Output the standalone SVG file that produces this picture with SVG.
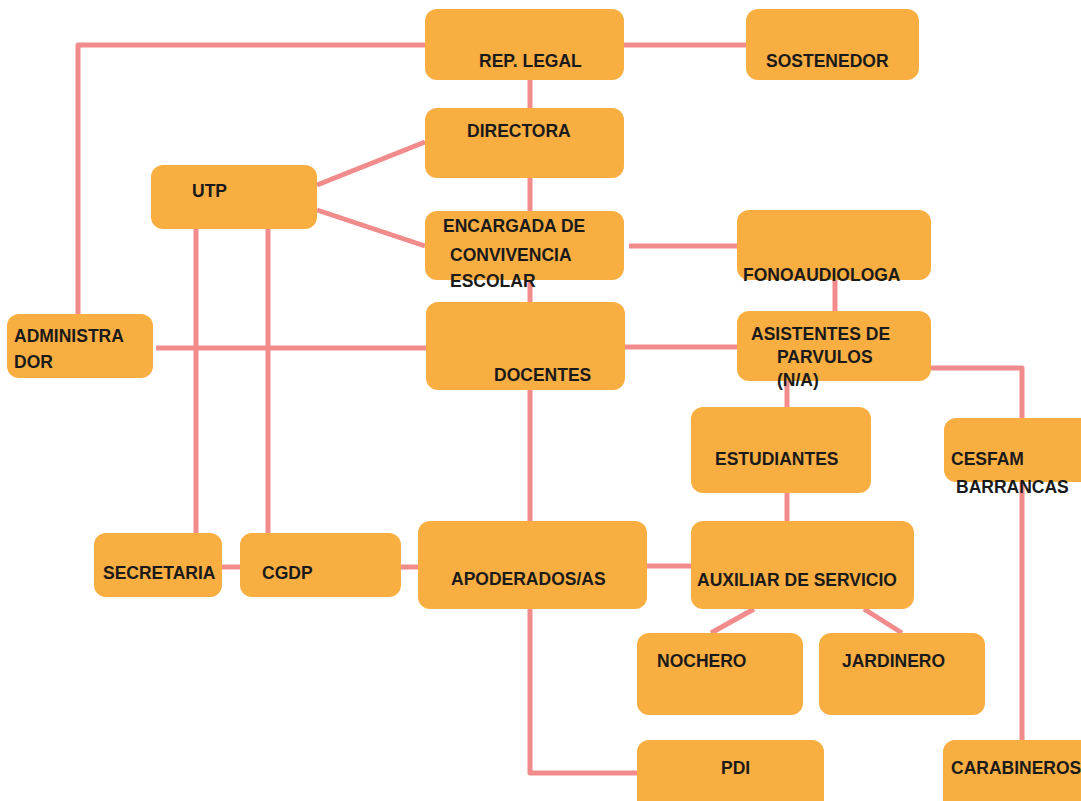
<svg xmlns="http://www.w3.org/2000/svg" width="1081" height="801" viewBox="0 0 1081 801">
<style>
.n{fill:#F9AE42}
.t{font-family:"Liberation Sans",Arial,sans-serif;font-weight:bold;font-size:17.5px;fill:#1a1a1a}
.c{stroke:#F28B8B;stroke-width:5;fill:none;stroke-linejoin:round}
</style>
<rect width="1081" height="801" fill="#ffffff"/>
<g id="connectors" class="c">
<polyline points="425,45 78,45 78,314"/>
<line x1="624" y1="45" x2="746" y2="45"/>
<line x1="530" y1="80" x2="530" y2="108"/>
<line x1="530" y1="178" x2="530" y2="211"/>
<line x1="530" y1="280" x2="530" y2="302"/>
<line x1="530" y1="390" x2="530" y2="521"/>
<line x1="317" y1="185" x2="425" y2="142"/>
<line x1="317" y1="210" x2="425" y2="246"/>
<line x1="196" y1="229" x2="196" y2="533"/>
<line x1="268" y1="229" x2="268" y2="533"/>
<line x1="156" y1="348" x2="426" y2="348"/>
<line x1="629" y1="246" x2="737" y2="246"/>
<line x1="835" y1="280" x2="835" y2="311"/>
<line x1="625" y1="347" x2="737" y2="347"/>
<polyline points="931,368 1022,368 1022,418"/>
<line x1="787" y1="381" x2="787" y2="407"/>
<line x1="787" y1="493" x2="787" y2="521"/>
<line x1="1022" y1="482" x2="1022" y2="740"/>
<line x1="222" y1="567" x2="240" y2="567"/>
<line x1="400" y1="567" x2="418" y2="567"/>
<line x1="647" y1="566" x2="691" y2="566"/>
<line x1="754" y1="609" x2="711" y2="633"/>
<line x1="864" y1="609" x2="902" y2="633"/>
<polyline points="530,609 530,773 637,773"/>
</g>
<g id="rep-legal"><rect class="n" x="425" y="9" width="199" height="71" rx="12"/><text class="t" x="479" y="67">REP. LEGAL</text></g>
<g id="sostenedor"><rect class="n" x="746" y="9" width="173" height="71" rx="12"/><text class="t" x="766" y="67">SOSTENEDOR</text></g>
<g id="directora"><rect class="n" x="425" y="108" width="199" height="70" rx="12"/><text class="t" x="467" y="137">DIRECTORA</text></g>
<g id="utp"><rect class="n" x="151" y="165" width="166" height="64" rx="12"/><text class="t" x="192" y="197">UTP</text></g>
<g id="encargada"><rect class="n" x="425" y="211" width="199" height="69" rx="12"/><text class="t" x="443" y="232">ENCARGADA DE</text><text class="t" x="450" y="261">CONVIVENCIA</text><text class="t" x="450" y="287">ESCOLAR</text></g>
<g id="fonoaudiologa"><rect class="n" x="737" y="210" width="194" height="70" rx="12"/><text class="t" x="743" y="281">FONOAUDIOLOGA</text></g>
<g id="administrador"><rect class="n" x="7" y="314" width="146" height="64" rx="12"/><text class="t" x="14" y="342">ADMINISTRA</text><text class="t" x="14" y="368">DOR</text></g>
<g id="docentes"><rect class="n" x="426" y="302" width="199" height="88" rx="12"/><text class="t" x="494" y="381">DOCENTES</text></g>
<g id="asistentes"><rect class="n" x="737" y="311" width="194" height="70" rx="12"/><text class="t" x="751" y="340">ASISTENTES DE</text><text class="t" x="777" y="363">PARVULOS</text><text class="t" x="777" y="386">(N/A)</text></g>
<g id="estudiantes"><rect class="n" x="691" y="407" width="180" height="86" rx="12"/><text class="t" x="715" y="465">ESTUDIANTES</text></g>
<g id="cesfam"><rect class="n" x="944" y="418" width="150" height="64" rx="12"/><text class="t" x="951" y="465">CESFAM</text><text class="t" x="956" y="493">BARRANCAS</text></g>
<g id="secretaria"><rect class="n" x="94" y="533" width="128" height="64" rx="12"/><text class="t" x="103" y="579">SECRETARIA</text></g>
<g id="cgdp"><rect class="n" x="240" y="533" width="161" height="64" rx="12"/><text class="t" x="262" y="579">CGDP</text></g>
<g id="apoderados"><rect class="n" x="418" y="521" width="229" height="88" rx="12"/><text class="t" x="451" y="585">APODERADOS/AS</text></g>
<g id="auxiliar"><rect class="n" x="691" y="521" width="223" height="88" rx="12"/><text class="t" x="697" y="586">AUXILIAR DE SERVICIO</text></g>
<g id="nochero"><rect class="n" x="637" y="633" width="166" height="82" rx="12"/><text class="t" x="657" y="667">NOCHERO</text></g>
<g id="jardinero"><rect class="n" x="819" y="633" width="166" height="82" rx="12"/><text class="t" x="842" y="667">JARDINERO</text></g>
<g id="pdi"><rect class="n" x="637" y="740" width="187" height="75" rx="12"/><text class="t" x="721" y="774">PDI</text></g>
<g id="carabineros"><rect class="n" x="943" y="740" width="150" height="75" rx="12"/><text class="t" x="951" y="774">CARABINEROS</text></g>
</svg>
